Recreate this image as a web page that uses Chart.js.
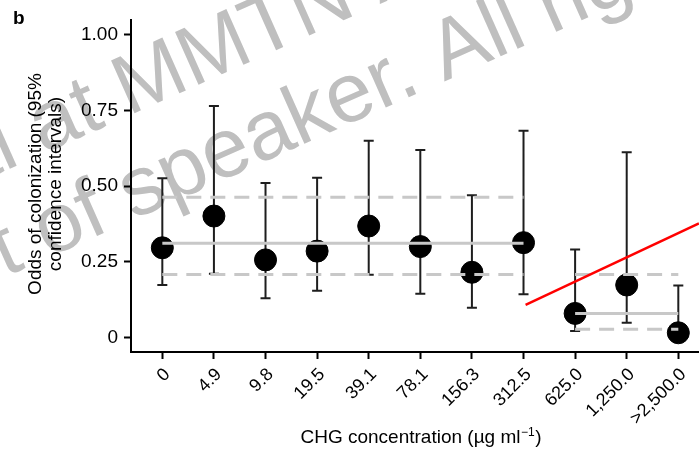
<!DOCTYPE html>
<html><head><meta charset="utf-8">
<script src="https://cdn.jsdelivr.net/npm/chart.js@4/dist/chart.umd.min.js"></script>
<style>html,body{margin:0;padding:0;background:#fff;overflow:hidden;}canvas{display:block;}</style>
</head><body>
<canvas id="c" width="699" height="449"></canvas>
<script>
const panelLabel = 'b';
const xTitleMain = 'CHG concentration (\u00B5g ml';
const xTitleSup = '\u22121';
const xTitleEnd = ')';
const yTitleLines = ['Odds of colonization (95%', 'confidence intervals)'];
const watermarkLines = ['al at MMTN A', 't of speaker. All rig'];

const categories = ['0', '4.9', '9.8', '19.5', '39.1', '78.1', '156.3', '312.5', '625.0', '1,250.0', '>2,500.0'];
const odds   = [0.296, 0.401, 0.256, 0.285, 0.368, 0.300, 0.215, 0.313, 0.079, 0.173, 0.015];
const ciLow  = [0.173, 0.210, 0.129, 0.154, 0.207, 0.144, 0.098, 0.142, 0.021, 0.048, 0.002];
const ciHigh = [0.526, 0.765, 0.510, 0.528, 0.650, 0.619, 0.470, 0.683, 0.290, 0.612, 0.171];

const yTickValues = [0, 0.25, 0.5, 0.75, 1];
const yTickLabels = ['0', '0.25', '0.50', '0.75', '1.00'];

// pooled estimates for the two concentration groups
const groupFrom = [0, 8];
const groupTo   = [7, 10];
const groupOdds = [0.311, 0.079];
const groupLow  = [0.208, 0.027];
const groupHigh = [0.463, 0.208];

// red annotation line
const trendX = [7.04, 10.4];
const trendY = [0.107, 0.377];

const FONT = '"Liberation Sans", Arial, Helvetica, sans-serif';
Chart.defaults.font.family = FONT;
Chart.defaults.color = '#000';

// build library data from the arrays
const CAP = 0.097; // half cap width in category units
const whiskerData = [];
categories.forEach((_, i) => {
  whiskerData.push({x: i, y: ciLow[i]}, {x: i, y: ciHigh[i]}, {x: i, y: null});
  whiskerData.push({x: i - CAP, y: ciHigh[i]}, {x: i + CAP, y: ciHigh[i]}, {x: i, y: null});
  whiskerData.push({x: i - CAP, y: ciLow[i]}, {x: i + CAP, y: ciLow[i]}, {x: i, y: null});
});
const pointData = categories.map((_, i) => ({x: i, y: odds[i]}));
const solidData = [];
const dashData = [];
groupFrom.forEach((f, g) => {
  solidData.push({x: f, y: groupOdds[g]}, {x: groupTo[g], y: groupOdds[g]}, {x: f, y: null});
  dashData.push({x: f, y: groupHigh[g]}, {x: groupTo[g], y: groupHigh[g]}, {x: f, y: null});
  dashData.push({x: f, y: groupLow[g]}, {x: groupTo[g], y: groupLow[g]}, {x: f, y: null});
});
const trendData = trendX.map((x, i) => ({x, y: trendY[i]}));

const watermarkPlugin = {
  id: 'watermark',
  beforeDraw(chart) {
    const ctx = chart.ctx;
    ctx.save();
    ctx.fillStyle = '#bfbfbf';
    ctx.font = '84px ' + FONT;
    ctx.textAlign = 'left';
    ctx.textBaseline = 'alphabetic';
    const ang = -24 * Math.PI / 180;
    const starts = [[-38, 190], [5, 277]];
    watermarkLines.forEach((t, i) => {
      ctx.save();
      ctx.translate(starts[i][0], starts[i][1]);
      ctx.rotate(ang);
      ctx.fillText(t, 0, 0);
      ctx.restore();
    });
    ctx.restore();
  }
};

const textPlugin = {
  id: 'texts',
  afterDraw(chart) {
    const ctx = chart.ctx;
    ctx.save();
    ctx.fillStyle = '#000';
    ctx.font = 'bold 19px ' + FONT;
    ctx.textAlign = 'left';
    ctx.textBaseline = 'alphabetic';
    ctx.fillText(panelLabel, 13, 24);

    // x title with superscript
    ctx.font = '19px ' + FONT;
    const wMain = ctx.measureText(xTitleMain).width;
    const wEnd = ctx.measureText(xTitleEnd).width;
    ctx.font = '12px ' + FONT;
    const wSup = ctx.measureText(xTitleSup).width;
    const total = wMain + wSup + 1 + wEnd;
    let x0 = 421 - total / 2;
    const base = 443;
    ctx.font = '19px ' + FONT;
    ctx.fillText(xTitleMain, x0, base);
    ctx.font = '12px ' + FONT;
    ctx.fillText(xTitleSup, x0 + wMain + 0.5, base - 7);
    ctx.font = '19px ' + FONT;
    ctx.fillText(xTitleEnd, x0 + wMain + wSup + 1, base);

    // y title
    ctx.translate(0, 184);
    ctx.rotate(-Math.PI / 2);
    ctx.textAlign = 'center';
    ctx.textBaseline = 'middle';
    ctx.fillText(yTitleLines[0], 0, 36);
    ctx.fillText(yTitleLines[1], 0, 56);
    ctx.restore();
  }
};

new Chart(document.getElementById('c'), {
  type: 'scatter',
  data: {
    datasets: [
      {data: trendData, showLine: true, borderColor: '#ff0000', borderWidth: 2.5, pointRadius: 0, fill: false},
      {data: solidData, showLine: true, spanGaps: false, borderColor: '#c8c8c8', borderWidth: 3, pointRadius: 0, fill: false},
      {data: dashData, showLine: true, spanGaps: false, borderColor: '#c8c8c8', borderWidth: 3, borderDash: [15, 9], pointRadius: 0, fill: false},
      {data: pointData, showLine: false, pointRadius: 11, pointBackgroundColor: '#000', pointBorderColor: '#000', pointBorderWidth: 1},
      {data: whiskerData, showLine: true, spanGaps: false, borderColor: '#1e1e1e', borderWidth: 2, pointRadius: 0, fill: false}
    ]
  },
  options: {
    responsive: false,
    devicePixelRatio: 1,
    animation: false,
    events: [],
    layout: {autoPadding: false, padding: {top: 20, left: 0, right: 0, bottom: 0}},
    plugins: {legend: {display: false}, tooltip: {enabled: false}},
    scales: {
      x: {
        type: 'linear',
        min: -0.607,
        max: 10.401,
        afterBuildTicks: axis => { axis.ticks = categories.map((_, i) => ({value: i})); },
        afterFit: s => { s.height = 97; s.paddingLeft = 0; s.paddingRight = 0; },
        ticks: {
          autoSkip: false, minRotation: 45, maxRotation: 45,
          font: {size: 18}, color: '#000', padding: 5, labelOffset: 5,
          callback: (v) => categories[Math.round(v)]
        },
        grid: {drawOnChartArea: false, drawTicks: true, tickLength: 7, tickWidth: 2, tickColor: '#000'},
        border: {display: true, color: '#000', width: 2}
      },
      y: {
        type: 'linear',
        min: -0.0486,
        max: 1.0493,
        afterBuildTicks: axis => { axis.ticks = yTickValues.map(v => ({value: v})); },
        afterFit: s => { s.width = 131; s.paddingTop = 0; s.paddingBottom = 0; },
        ticks: {
          font: {size: 19}, color: '#000', padding: 6,
          callback: (v, i) => yTickLabels[i]
        },
        grid: {drawOnChartArea: false, drawTicks: true, tickLength: 7, tickWidth: 2, tickColor: '#000'},
        border: {display: true, color: '#000', width: 2}
      }
    }
  },
  plugins: [watermarkPlugin, textPlugin]
});
</script>
</body></html>
